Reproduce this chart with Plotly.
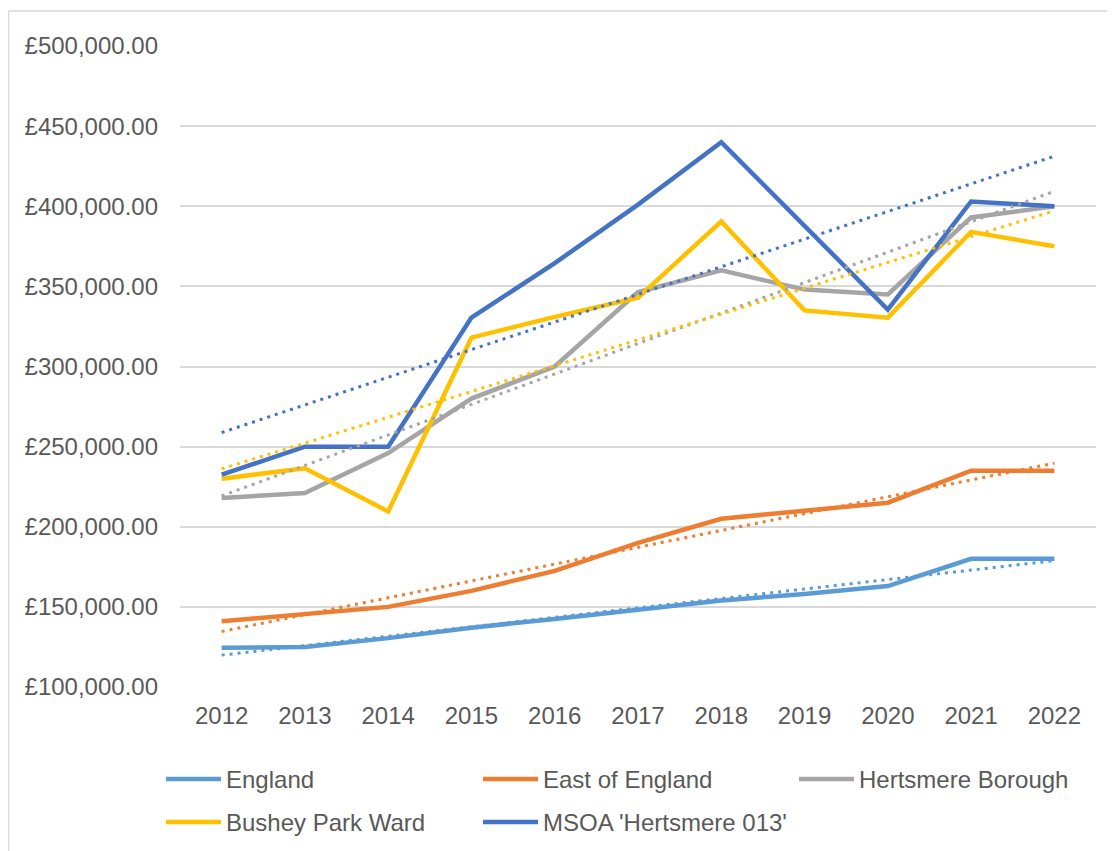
import numpy as np
import plotly.graph_objects as go

years = ["2012", "2013", "2014", "2015", "2016", "2017", "2018", "2019", "2020", "2021", "2022"]

england = [124500, 125000, 130500, 137000, 142500, 148500, 154000, 158000, 163000, 180000, 180000]
east_of_england = [141000, 145500, 150000, 160000, 172500, 190000, 205000, 210000, 215000, 235000, 235000]
hertsmere = [218000, 221000, 246000, 280000, 300000, 346500, 360000, 348000, 345000, 393000, 400000]
bushey_park = [230000, 236500, 209500, 318000, 331000, 343000, 390500, 335000, 330500, 384000, 375000]
msoa = [232500, 250000, 250000, 330500, 364500, 401000, 440000, 388000, 335500, 403000, 400000]

names = ["England", "East of England", "Hertsmere Borough", "Bushey Park Ward", "MSOA 'Hertsmere 013'"]
colors = ["#5B9BD5", "#ED7D31", "#A5A5A5", "#FFC000", "#4472C4"]
series = [england, east_of_england, hertsmere, bushey_park, msoa]

FONT = "Liberation Sans, Arial, sans-serif"
TXT = "#595959"
FW, FH = 1107, 843               # page has an 8px body margin
L, T, W, H = 172, 38, 916, 641   # plot area in figure px

def px_x(p):
    return (p - L) / W

def px_y(p):
    return (T + H - p) / H

# one legend per entry so the Excel-like grid can be placed exactly
legend_pos = [(153, 749), (470, 749), (786, 749), (153, 792), (470, 792)]
legend_keys = ["legend", "legend2", "legend3", "legend4", "legend5"]

fig = go.Figure()

for name, col, vals, key in zip(names, colors, series, legend_keys):
    fig.add_trace(go.Scatter(
        x=years, y=vals, name=name, mode="lines",
        line=dict(color=col, width=4.5), legend=key,
    ))

# linear trendlines, dotted like Excel
idx = np.arange(len(years))
for col, vals in zip(colors, series):
    slope, icpt = np.polyfit(idx, vals, 1)
    fig.add_trace(go.Scatter(
        x=years, y=slope * idx + icpt, mode="lines", showlegend=False,
        line=dict(color=col, width=3, dash="3px,5px"),
        hoverinfo="skip",
    ))

fig.update_layout(
    width=FW, height=FH,
    margin=dict(l=L, r=FW - L - W, t=T, b=FH - T - H, autoexpand=False),
    paper_bgcolor="white", plot_bgcolor="white",
    font=dict(family=FONT, size=24, color=TXT),
    xaxis=dict(
        type="category", range=[-0.5, 10.5], showgrid=False, zeroline=False,
        showline=False, ticks="", ticklabelstandoff=12,
        tickfont=dict(size=24, color=TXT),
    ),
    yaxis=dict(
        range=[100000, 500000], dtick=50000, tickprefix="£", tickformat=",.2f",
        showgrid=True, gridcolor="#D9D9D9", gridwidth=1.5, zeroline=False,
        showline=False, ticks="", ticklabelstandoff=21,
        tickfont=dict(size=24, color=TXT),
    ),
    showlegend=True,
)

for key, (lx, ly) in zip(legend_keys, legend_pos):
    fig.update_layout({key: dict(
        orientation="h", x=px_x(lx), y=px_y(ly), xanchor="left", yanchor="top",
        itemwidth=55, font=dict(size=24, color=TXT), bgcolor="rgba(0,0,0,0)",
    )})

# chart area border
fig.add_shape(
    type="rect", xref="paper", yref="paper", layer="below",
    x0=px_x(0.5), x1=px_x(1105), y0=px_y(860), y1=px_y(3),
    line=dict(color="#D9D9D9", width=1.5), fillcolor="rgba(0,0,0,0)",
)

fig.write_html("out.html")
